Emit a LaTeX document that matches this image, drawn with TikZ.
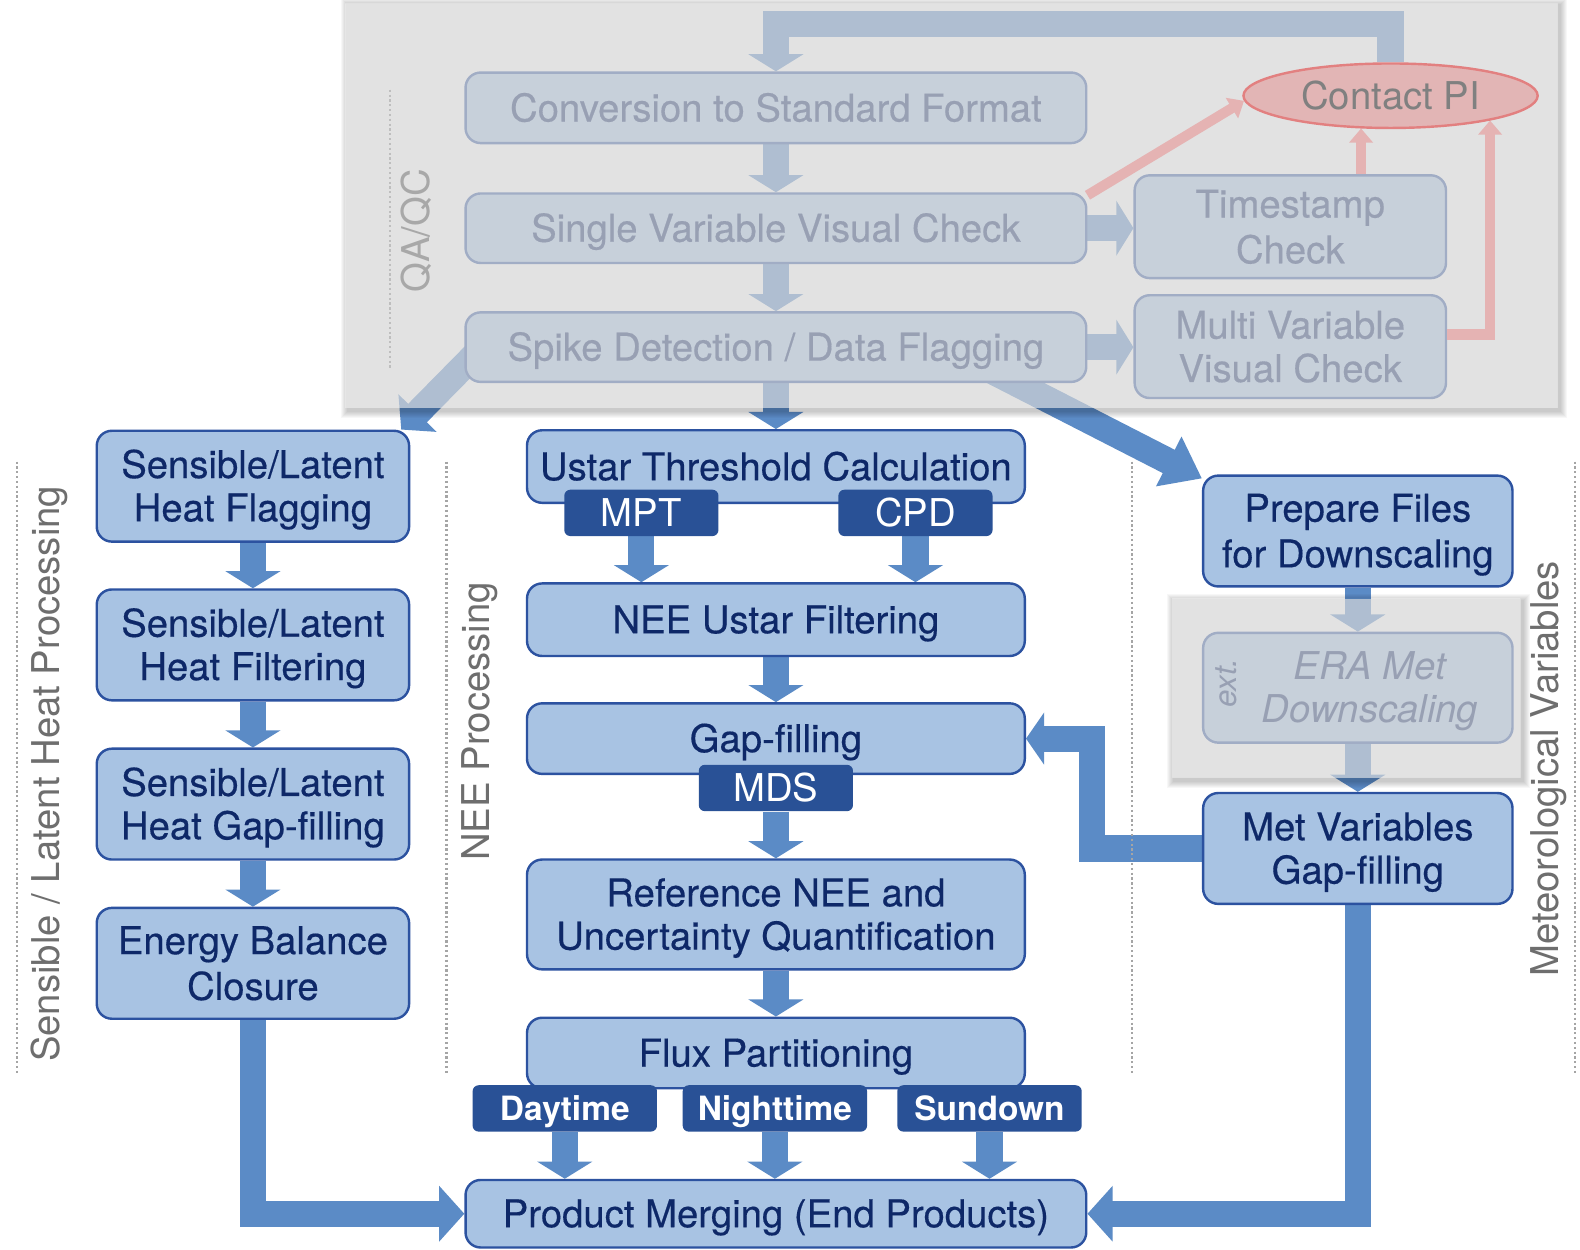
\documentclass[tikz,border=0pt]{standalone}
\usepackage{fontspec}
\setmainfont{TeX Gyre Heros}
\newfontfamily\boxfont{TeX Gyre Heros}[FakeBold=0.4]
\usetikzlibrary{arrows.meta,calc,shapes.geometric}
\definecolor{boxfill}{RGB}{168,195,227}
\definecolor{boxdraw}{RGB}{44,82,160}
\definecolor{navy}{RGB}{14,40,104}
\definecolor{tagfill}{RGB}{41,81,150}
\definecolor{arrblue}{RGB}{91,139,198}
\definecolor{lblgray}{RGB}{110,110,110}
\definecolor{dotgray}{RGB}{165,165,165}
\definecolor{veilgray}{RGB}{214,214,214}
\definecolor{pinkarr}{RGB}{229,179,179}
\definecolor{pifill}{RGB}{226,181,181}
\definecolor{pidraw}{RGB}{226,128,128}
\definecolor{pitext}{RGB}{128,128,128}
\definecolor{qagray}{RGB}{168,168,168}
\definecolor{qadot}{RGB}{190,190,190}
\newcommand{\ls}{\rule[-3.95pt]{0pt}{21.5pt}}
\newcommand{\lt}{\rule[-3.55pt]{0pt}{19pt}}
\pgfdeclarelayer{arrlayer}
\pgfdeclarelayer{veillayer}
\pgfdeclarelayer{frontlayer}
\pgfsetlayers{arrlayer,main,veillayer,frontlayer}
\tikzset{
  box/.style={draw=boxdraw, fill=boxfill, line width=1.2pt, rounded corners=7.5pt, text=navy,
    font=\boxfont\fontsize{19}{21.5}\selectfont, align=center, inner sep=0pt},
  tag/.style={fill=tagfill, rounded corners=3pt, text=white, inner sep=0pt, minimum height=23pt},
  tagA/.style={tag, font=\fontsize{19}{21.5}\selectfont, minimum width=76.5pt},
  tagB/.style={tag, font=\fontsize{16.6}{19}\selectfont\bfseries, minimum width=91.5pt},
  barr/.style={draw=arrblue, line width=13pt, line join=miter, -{Triangle[width=27pt,length=8.5pt]}},
  rarr/.style={draw=pinkarr, line width=5pt, line join=miter, -{Triangle[width=11.5pt,length=7pt]}},
  sidelbl/.style={rotate=90, anchor=base, text=lblgray, font=\fontsize{19}{21.5}\selectfont, inner sep=0pt},
  dotln/.style={draw=dotgray, line width=1.1pt, dash pattern=on 1.1pt off 1.3pt},
}
\begin{document}
\begin{tikzpicture}[x=0.5pt,y=-0.5pt]
\useasboundingbox (0,0) rectangle (1568,1240);

% ---------- Contact PI (front) ----------
\begin{pgfonlayer}{frontlayer}
\node[ellipse, draw=pidraw, fill=pifill, line width=1.2pt, minimum width=146pt, minimum height=32pt,
  inner sep=0pt, text=pitext, font=\fontsize{19}{21.5}\selectfont] (pi) at (1380,95) {\ls Contact PI};
\end{pgfonlayer}

% ---------- QA/QC boxes ----------
\node[box, minimum width=308pt, minimum height=35pt] (conv) at (770,107) {\ls Conversion to Standard Format};
\node[box, minimum width=308pt, minimum height=34.5pt] (single) at (770,226.5) {\ls Single Variable Visual Check};
\node[box, minimum width=308pt, minimum height=34.5pt] (spike) at (770,344.5) {\ls Spike Detection / Data Flagging};
\node[box, minimum width=154.5pt, minimum height=51pt] (ts) at (1280.5,225) {\ls Timestamp\\\ls Check};
\node[box, minimum width=154.5pt, minimum height=51pt] (multi) at (1280.5,344) {\ls Multi Variable\\\ls Visual Check};

% ---------- left column ----------
\node[box, minimum width=155pt, minimum height=55pt] (flag) at (251,482.5) {\ls Sensible/Latent\\\ls Heat Flagging};
\node[box, minimum width=155pt, minimum height=55pt] (filt) at (251,640) {\ls Sensible/Latent\\\ls Heat Filtering};
\node[box, minimum width=155pt, minimum height=55pt] (lgap) at (251,798) {\ls Sensible/Latent\\\ls Heat Gap-filling};
\node[box, minimum width=155pt, minimum height=55pt] (ebc) at (251,956) {\ls Energy Balance\\\ls Closure};

% ---------- middle column ----------
\node[box, minimum width=247pt, minimum height=36pt] (ustar) at (770,463) {\ls Ustar Threshold Calculation};
\node[tagA] (mpt) at (636.5,509) {\ls MPT};
\node[tagA] (cpd) at (908.5,509) {\ls CPD};
\node[box, minimum width=247pt, minimum height=36pt] (neeu) at (770,615) {\ls NEE Ustar Filtering};
\node[box, minimum width=247pt, minimum height=35pt] (gap) at (770,733) {\ls Gap-filling};
\node[tagA] (mds) at (770,782) {\ls MDS};
\node[box, minimum width=247pt, minimum height=54.5pt] (ref) at (770,907.5) {\ls Reference NEE and\\\ls Uncertainty Quantification};
\node[box, minimum width=247pt, minimum height=35pt] (flux) at (770,1045) {\ls Flux Partitioning};
\node[tagB] (day) at (560.5,1100) {\lt Daytime};
\node[tagB] (night) at (769,1100) {\lt Nighttime};
\node[tagB] (sun) at (982,1100) {\lt Sundown};
\node[box, minimum width=308pt, minimum height=33.5pt] (prod) at (770,1204.5) {\ls Product Merging (End Products)};

% ---------- right column ----------
\node[box, minimum width=153.5pt, minimum height=55pt] (prep) at (1347.5,527) {\ls Prepare Files\\\ls for Downscaling};
\node[box, minimum width=153.5pt, minimum height=54.5pt] (era) at (1347.5,682.5) {};
\node[text=navy, font=\fontsize{19}{21.5}\selectfont\itshape, align=center, inner sep=0pt] (eratext)
  at ($(era.center)+(12,0)$) {\ls ERA Met\\\ls Downscaling};
\node[rotate=90, text=navy, font=\fontsize{15.5}{18}\selectfont\itshape, inner sep=0pt] (ext)
  at ($(era.west)+(24,-4.5)$) {ext.};
\node[box, minimum width=153.5pt, minimum height=55pt] (met) at (1347.5,842) {\ls Met Variables\\\ls Gap-filling};

% ---------- side labels and separators ----------
\node[sidelbl] (slh) at (59,768) {Sensible / Latent Heat Processing};
\node[sidelbl] (neep) at (486,716) {NEE Processing};
\node[sidelbl] (metv) at (1547,763) {Meteorological Variables};
\draw[dotln] (17,458) -- (17,1065);
\draw[dotln] (443,458) -- (443,1065);
\draw[dotln] (1123,458) -- (1123,1065);
\draw[dotln] (1563,458) -- (1563,1065);

% ---------- arrows (below the boxes) ----------
\begin{pgfonlayer}{arrlayer}
\fill[white] (0,0) rectangle (1568,1240);
\draw[barr] (pi.north) |- ($(conv.north)+(0,-47)$) -- (conv.north);
\draw[barr] (conv.south) -- (single.north);
\draw[barr] (single.south) -- (spike.north);
\draw[barr] (single.east) -- (single.east -| ts.west);
\draw[barr] (spike.east) -- (spike.east -| multi.west);
\draw[barr] (spike.south) -- (ustar.north);
\draw[barr, -{Triangle[width=26pt,length=11.5pt]}] ($(spike.west)+(16,2)$) -- ($(flag.north east)+(-9,0)$);
\draw[barr, -{Triangle[width=26.5pt,length=18.5pt]}] ($(spike.south east)+(-120,-25)$) -- ($(prep.north west)+(0,4)$);
\draw[barr] (flag.south) -- (filt.north);
\draw[barr] (filt.south) -- (lgap.north);
\draw[barr] (lgap.south) -- (ebc.north);
\draw[barr, -{Triangle[width=27pt,length=12.5pt]}] (ebc.south) |- (prod.west);
\draw[barr] (mpt.south) -- (mpt.south |- neeu.north);
\draw[barr] (cpd.south) -- (cpd.south |- neeu.north);
\draw[barr] (neeu.south) -- (gap.north);
\draw[barr] (mds.south) -- (ref.north);
\draw[barr] (ref.south) -- (flux.north);
\draw[barr] (day.south) -- (day.south |- prod.north);
\draw[barr] (night.south) -- (night.south |- prod.north);
\draw[barr] (sun.south) -- (sun.south |- prod.north);
\draw[barr] (prep.south) -- (era.north);
\draw[barr] (era.south) -- (met.north);
\draw[barr, -{Triangle[width=27pt,length=12.5pt]}] (met.south) |- (prod.east);
\draw[barr, -{Triangle[width=25.5pt,length=9pt]}] (met.west) -- ($(met.west)+(-109,0)$) |- (gap.east);
\end{pgfonlayer}

% ---------- veils (faded regions) ----------
\begin{pgfonlayer}{veillayer}
\begin{scope}
  \clip (0,0) -- (1568,0) -- (1568,1240) -- (0,1240) -- cycle
        (343,3) -- (343,405) -- (1546,405) -- (1546,3) -- cycle
        (1163,594) -- (1163,772) -- (1509,772) -- (1509,594) -- cycle;
  \foreach \s in {1,...,7} {
    \fill[black, opacity=0.03] (343-\s+2,3-\s+2) rectangle (1546+\s+2,405+\s+3);
    \fill[black, opacity=0.03] (1163-\s+2,594-\s+2) rectangle (1509+\s+2,772+\s+3);
  }
\end{scope}
\fill[veilgray, opacity=0.69] (343,3) rectangle (1546,405);
\fill[veilgray, opacity=0.69] (1163,594) rectangle (1509,772);
\draw[dotln, draw=qadot] (387,89) -- (387,367);
\node[sidelbl, text=qagray] (qaqc) at (426,229) {QA/QC};
\draw[rarr] ($(single.north east)+(0,3)$) -- (pi.182);
\draw[rarr] (pi.228 |- ts.north) -- (pi.228);
\draw[rarr] ($(multi.east)+(0,-12)$) -| (pi.346);
\end{pgfonlayer}
\end{tikzpicture}
\end{document}
